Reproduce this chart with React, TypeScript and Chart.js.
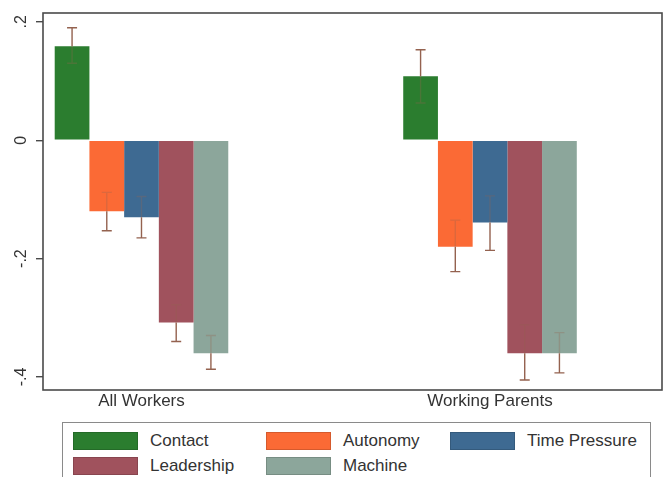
import React, { useEffect, useRef } from "react";
import { Chart, registerables } from "chart.js";

Chart.register(...registerables);

const groups = ["All Workers", "Working Parents"];
const groupPos = [0, 1];
const seriesNames = ["Contact", "Autonomy", "Time Pressure", "Leadership", "Machine"];
const seriesColors = ["#2b7d2f", "#fb6a35", "#3e6a92", "#a0525d", "#8ca69b"];
const contact = [0.159, 0.108];
const autonomy = [-0.12, -0.18];
const timePressure = [-0.13, -0.139];
const leadership = [-0.308, -0.36];
const machine = [-0.36, -0.36];
const contactCI = [[0.13, 0.19], [0.063, 0.153]];
const autonomyCI = [[-0.153, -0.088], [-0.222, -0.135]];
const timePressureCI = [[-0.165, -0.095], [-0.186, -0.094]];
const leadershipCI = [[-0.34, -0.278], [-0.405, -0.312]];
const machineCI = [[-0.387, -0.33], [-0.393, -0.325]];
const yTicks = [-0.4, -0.2, 0, 0.2];
const yTickLabels = ["-.4", "-.2", "0", ".2"];

const seriesValues = [contact, autonomy, timePressure, leadership, machine];
const seriesCI = [contactCI, autonomyCI, timePressureCI, leadershipCI, machineCI];

const FONT = "'Liberation Sans', Arial, sans-serif";

const framePlugin = {
  id: "frameAndLabels",
  afterDraw(chart: any) {
    const { ctx, chartArea, scales } = chart;
    ctx.save();
    ctx.strokeStyle = "#4a4a4a";
    ctx.lineWidth = 1.6;
    ctx.strokeRect(chartArea.left, chartArea.top, chartArea.right - chartArea.left, chartArea.bottom - chartArea.top);
    ctx.fillStyle = "#333";
    ctx.font = `16px ${FONT}`;
    ctx.textAlign = "center";
    ctx.textBaseline = "middle";
    yTicks.forEach((v, i) => {
      const y = scales.y.getPixelForValue(v);
      ctx.save();
      ctx.translate(chartArea.left - 21, y);
      ctx.rotate(-Math.PI / 2);
      ctx.fillText(yTickLabels[i], 0, 0);
      ctx.restore();
    });
    ctx.restore();
  },
};

const errorBarPlugin = {
  id: "errorBars",
  afterDatasetsDraw(chart: any) {
    const { ctx, scales } = chart;
    const ys = scales.y;
    ctx.save();
    ctx.strokeStyle = "#94624f";
    ctx.lineWidth = 1.4;
    seriesCI.forEach((ci, i) => {
      const meta = chart.getDatasetMeta(i);
      meta.data.forEach((bar: any, j: number) => {
        const x = bar.x;
        const lo = ci[j][0];
        const hi = ci[j][1];
        const v = seriesValues[i][j];
        const bLo = Math.min(0, v);
        const bHi = Math.max(0, v);
        const inLo = Math.max(lo, bLo);
        const inHi = Math.min(hi, bHi);
        // outside parts
        const segs: number[][] = [];
        if (lo < bLo) segs.push([lo, Math.min(hi, bLo)]);
        if (hi > bHi) segs.push([Math.max(lo, bHi), hi]);
        ctx.globalAlpha = 1;
        ctx.beginPath();
        segs.forEach(([a, b]) => {
          ctx.moveTo(x, ys.getPixelForValue(a));
          ctx.lineTo(x, ys.getPixelForValue(b));
        });
        const capLo = ys.getPixelForValue(lo);
        const capHi = ys.getPixelForValue(hi);
        if (lo < bLo || lo > bHi) {
          ctx.moveTo(x - 5, capLo);
          ctx.lineTo(x + 5, capLo);
        }
        if (hi > bHi || hi < bLo) {
          ctx.moveTo(x - 5, capHi);
          ctx.lineTo(x + 5, capHi);
        }
        ctx.stroke();
        // inside parts (faint)
        ctx.globalAlpha = 0.3;
        ctx.beginPath();
        if (inHi > inLo) {
          ctx.moveTo(x, ys.getPixelForValue(inLo));
          ctx.lineTo(x, ys.getPixelForValue(inHi));
        }
        if (lo >= bLo && lo <= bHi) {
          ctx.moveTo(x - 5, capLo);
          ctx.lineTo(x + 5, capLo);
        }
        if (hi >= bLo && hi <= bHi) {
          ctx.moveTo(x - 5, capHi);
          ctx.lineTo(x + 5, capHi);
        }
        ctx.stroke();
      });
    });
    ctx.restore();
  },
};

export default function App() {
  const ref = useRef<HTMLCanvasElement>(null);
  useEffect(() => {
    if (!ref.current) return;
    const chart = new Chart(ref.current, {
      type: "bar",
      data: {
        datasets: seriesNames.map((name, i) => ({
          label: name,
          data: groupPos.map((x, j) => ({ x, y: seriesValues[i][j] })),
          backgroundColor: seriesColors[i],
          borderWidth: 0,
          barPercentage: 1,
          categoryPercentage: 0.498,
        })),
      },
      options: {
        responsive: false,
        animation: false,
        layout: { padding: { top: 13, right: 2, left: 0, bottom: 0 } },
        plugins: { legend: { display: false }, tooltip: { enabled: false } },
        scales: {
          x: {
            type: "linear",
            offset: false,
            min: -0.2826,
            max: 1.4935,
            grid: { display: false, drawTicks: false, offset: false },
            border: { display: false },
            afterBuildTicks: (s: any) => {
              s.ticks = groupPos.map((v) => ({ value: v }));
            },
            afterFit: (s: any) => {
              s.height = 25;
            },
            ticks: {
              autoSkip: false,
              maxRotation: 0,
              padding: 1,
              color: "#333",
              font: { family: FONT, size: 17 },
              callback: (_v: any, idx: number) => groups[idx],
            },
          },
          y: {
            min: -0.422,
            max: 0.215,
            grid: { drawOnChartArea: false, drawTicks: true, tickLength: 7, color: "#4a4a4a", lineWidth: 1.4 },
            border: { display: false },
            afterBuildTicks: (s: any) => {
              s.ticks = yTicks.map((v) => ({ value: v }));
            },
            afterFit: (s: any) => {
              s.width = 43;
            },
            ticks: { callback: () => "", padding: 0 },
          },
        },
      },
      plugins: [errorBarPlugin, framePlugin],
    } as any);
    return () => chart.destroy();
  }, []);

  return (
    <div style={{ position: "absolute", left: 0, top: 0, width: 664, height: 477, overflow: "hidden", background: "#fff", fontFamily: FONT }}>
      <canvas ref={ref} width={664} height={415} style={{ display: "block" }} />
      <div
        style={{
          position: "absolute",
          left: 62,
          top: 422,
          width: 589,
          height: 70,
          border: "1.5px solid #8a8a8a",
          boxSizing: "border-box",
          display: "grid",
          gridTemplateColumns: "193px 184px auto",
          gridAutoRows: "25px",
          paddingLeft: 10,
          paddingTop: 5,
        }}
      >
        {seriesNames.map((name, i) => (
          <div key={name} style={{ display: "flex", alignItems: "center" }}>
            <div style={{ width: 65, height: 18, boxSizing: "border-box", background: seriesColors[i], border: "1px solid rgba(0,0,0,0.15)", marginRight: 12 }} />
            <span style={{ fontSize: 17, color: "#333", whiteSpace: "nowrap" }}>{name}</span>
          </div>
        ))}
      </div>
    </div>
  );
}
